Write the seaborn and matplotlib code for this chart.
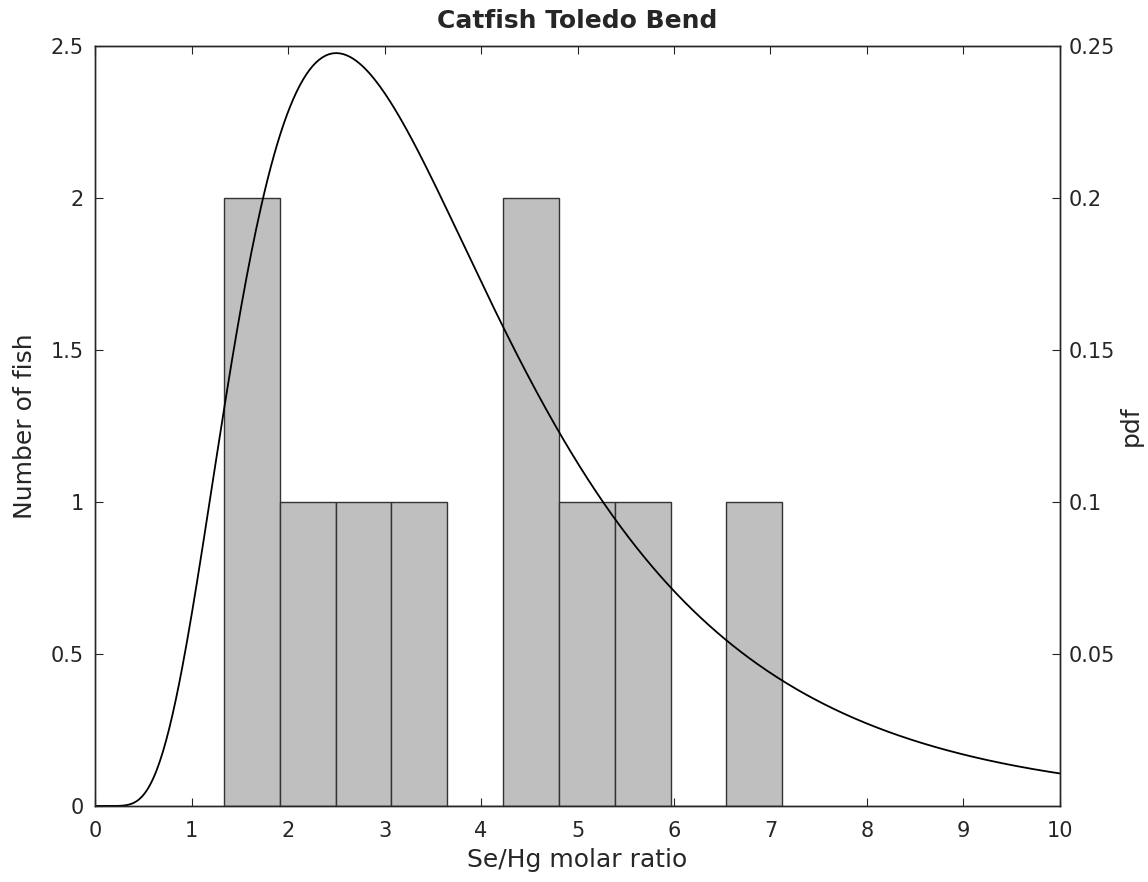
import numpy as np
import pandas as pd
import matplotlib
matplotlib.use('Agg')
import matplotlib.pyplot as plt
import seaborn as sns

# Histogram of Se/Hg molar ratios (10 bins between min and max of the fish)
bin_edges = [1.337, 1.915, 2.494, 3.072, 3.651, 4.229, 4.808, 5.386, 5.964, 6.543, 7.121]
fish_counts = [2, 1, 1, 1, 0, 2, 1, 1, 0, 1]

# Fitted lognormal parameters (mode ~2.5, peak ~0.248)
lognorm_mu = 1.222
lognorm_sigma = 0.553

x_ticks = [0, 1, 2, 3, 4, 5, 6, 7, 8, 9, 10]
count_ticks = [0, 0.5, 1, 1.5, 2, 2.5]
count_ticklabels = ['0', '0.5', '1', '1.5', '2', '2.5']
pdf_ticks = [0.05, 0.1, 0.15, 0.2, 0.25]
pdf_ticklabels = ['0.05', '0.1', '0.15', '0.2', '0.25']

sns.set_style('white')
plt.rcParams['font.family'] = ['DejaVu Sans']

centers = [(bin_edges[i] + bin_edges[i + 1]) / 2 for i in range(len(fish_counts))]
hist_df = pd.DataFrame({'ratio': centers, 'count': fish_counts})

xs = np.linspace(0.001, 10, 600)
pdf_vals = np.exp(-(np.log(xs) - lognorm_mu) ** 2 / (2 * lognorm_sigma ** 2)) / (xs * lognorm_sigma * np.sqrt(2 * np.pi))
pdf_df = pd.DataFrame({'x': xs, 'pdf': pdf_vals})

fig = plt.figure(figsize=(11.48, 8.82), dpi=100)
ax = fig.add_axes([0.0828, 0.0862, 0.8405, 0.8616])

sns.histplot(data=hist_df, x='ratio', weights='count', bins=bin_edges, ax=ax,
             color='#bfbfbf', edgecolor='#333333', linewidth=1.0, alpha=1.0)

ax.set_xlim(0, 10)
ax.set_ylim(0, 2.5)
ax.set_xticks(x_ticks)
ax.set_yticks(count_ticks)
ax.set_yticklabels(count_ticklabels)
ax.set_xlabel('Se/Hg molar ratio', fontsize=18, labelpad=5, color='#262626')
ax.set_ylabel('Number of fish', fontsize=18, labelpad=10, color='#262626')
ax.set_title('Catfish Toledo Bend', fontsize=18, fontweight='bold', pad=13)
ax.tick_params(axis='both', direction='in', length=6, width=0.8, labelsize=15,
               top=True, right=False, left=True, bottom=True, labelcolor='#262626')
ax.tick_params(axis='x', pad=11)
ax.tick_params(axis='y', pad=8)

ax2 = ax.twinx()
sns.lineplot(data=pdf_df, x='x', y='pdf', ax=ax2, color='black', linewidth=1.3)
ax2.set_ylim(0, 0.25)
ax2.set_yticks(pdf_ticks)
ax2.set_yticklabels(pdf_ticklabels)
ax2.set_ylabel('pdf', fontsize=18, labelpad=3, color='#262626')
ax2.tick_params(axis='y', direction='in', length=6, width=0.8, labelsize=15, pad=6,
                labelcolor='#262626')

for a in (ax, ax2):
    for s in a.spines.values():
        s.set_color('#262626')
        s.set_linewidth(1.0)

plt.savefig('out.png', dpi=100)
